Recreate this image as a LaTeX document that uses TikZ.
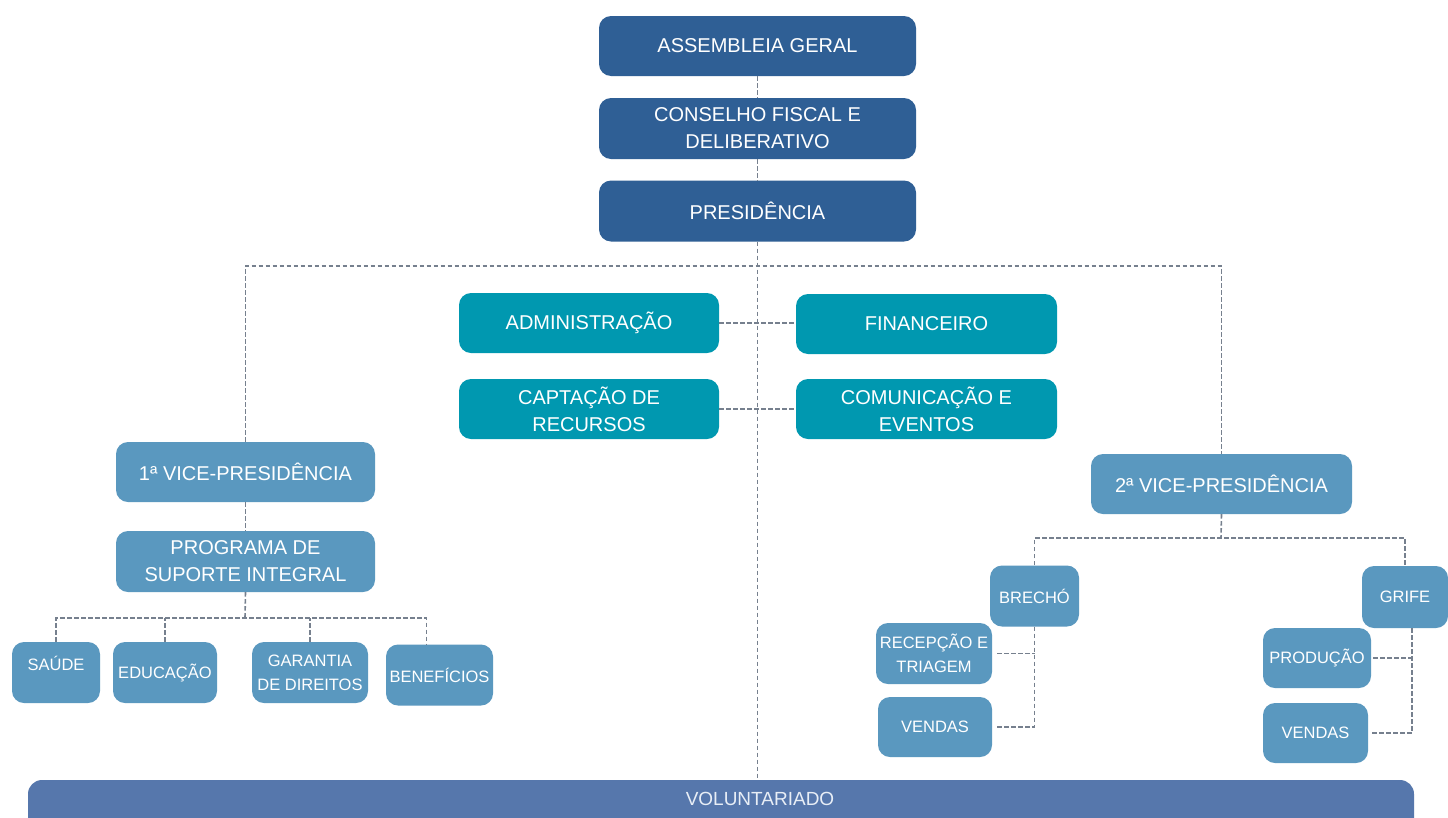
\documentclass[tikz,border=0pt]{standalone}
\usepackage{fontspec}
\setmainfont{Liberation Sans}
\definecolor{cdark}{RGB}{47,95,149}
\definecolor{cteal}{RGB}{0,152,176}
\definecolor{csteel}{RGB}{90,152,191}
\definecolor{cvol}{RGB}{86,119,172}
\definecolor{cline}{RGB}{118,128,142}
\definecolor{cvoltext}{RGB}{232,238,246}
\begin{document}
\begin{tikzpicture}[x=1pt,y=-1pt,
  box/.style={rectangle, rounded corners=12pt, text=white, align=center, inner sep=0pt,
    font=\fontsize{20}{27}\selectfont},
  dk/.style={box, fill=cdark},
  tl/.style={box, fill=cteal},
  st/.style={box, fill=csteel},
  sm/.style={font=\fontsize{16.5}{24}\selectfont},
  conn/.style={draw=cline, line width=1.6pt, dash pattern=on 4.5pt off 2.5pt}]
\clip (0,0) rectangle (1448,817);
\fill[white] (0,0) rectangle (1448,817);

% top column
\node[dk, minimum width=317pt, minimum height=60pt] (ag) at (757.5,46) {ASSEMBLEIA GERAL};
\node[dk, minimum width=317pt, minimum height=61pt] (cf) at (757.5,128.5) {CONSELHO FISCAL E\\DELIBERATIVO};
\node[dk, minimum width=317pt, minimum height=61pt] (pres) at (757.5,211) {PRESIDÊNCIA};

% staff boxes
\node[tl, minimum width=260pt, minimum height=60pt] (adm) at (589,323) {ADMINISTRAÇÃO};
\node[tl, minimum width=261pt, minimum height=60pt] (fin) at (926.5,324) {FINANCEIRO};
\node[tl, minimum width=260pt, minimum height=60pt] (cap) at (589,409) {CAPTAÇÃO DE\\RECURSOS};
\node[tl, minimum width=261pt, minimum height=60pt] (com) at (926.5,409) {COMUNICAÇÃO E\\EVENTOS};

% left branch
\node[st, minimum width=259pt, minimum height=60pt] (vp1) at (245.5,472) {1ª VICE-PRESIDÊNCIA};
\node[st, minimum width=259pt, minimum height=61pt] (psi) at (245.5,561.5) {PROGRAMA DE\\SUPORTE INTEGRAL};
\node[st, sm, minimum width=88pt, minimum height=61pt] (saude) at (56,672.5) {SAÚDE\\[-6pt]};
\node[st, sm, minimum width=104pt, minimum height=61pt] (edu) at (165,672.5) {EDUCAÇÃO};
\node[st, sm, minimum width=116pt, minimum height=61pt] (gar) at (310,672.5) {GARANTIA\\DE DIREITOS};
\node[st, sm, minimum width=107pt, minimum height=61pt] (ben) at (439.5,675) {BENEFÍCIOS};

% right branch
\node[st, minimum width=261pt, minimum height=60pt] (vp2) at (1221.5,484) {2ª VICE-PRESIDÊNCIA};
\node[st, sm, minimum width=89pt, minimum height=61pt] (brecho) at (1034.5,596) {BRECHÓ};
\node[st, sm, minimum width=86pt, minimum height=62pt] (grife) at (1405,597) {GRIFE};
\node[st, sm, minimum width=116pt, minimum height=61pt] (rec) at (934,653.5) {RECEPÇÃO E\\TRIAGEM};
\node[st, sm, minimum width=114pt, minimum height=60pt] (vend1) at (935,727) {VENDAS};
\node[st, sm, minimum width=108pt, minimum height=60pt] (prod) at (1317,658) {PRODUÇÃO};
\node[st, sm, minimum width=105pt, minimum height=60pt] (vend2) at (1315.5,733) {VENDAS};

% voluntariado bar
\node[rectangle, rounded corners=14pt, fill=cvol, minimum width=1386pt, minimum height=56pt, inner sep=0pt] (vol) at (721,808) {};
\node[text=cvoltext, font=\fontsize{19}{22}\selectfont] (voltext) at (760,799) {VOLUNTARIADO};

% connectors
\coordinate (hbar) at (758,266);
\draw[conn] (ag.south) -- (cf.north);
\draw[conn] (cf.south) -- (pres.north);
\draw[conn] (pres.south) -- (pres.south |- vol.north);
\draw[conn] (vp1.north) |- (hbar) -| (vp2.north);
\draw[conn] (adm.east) -- (adm.east -| fin.west);
\draw[conn] (cap.east) -- (cap.east -| com.west);

\coordinate (pj) at (245,618);
\draw[conn] (vp1.south) -- (psi.north);
\draw[conn] (psi.south) -- (pj);
\draw[conn] (saude.north) |- (pj) -| ([xshift=-13pt]ben.north);
\draw[conn] (edu.north) -- (edu.north |- pj);
\draw[conn] (gar.north) -- (gar.north |- pj);

\coordinate (rj) at (1221,538);
\draw[conn] (vp2.south) -- (rj);
\draw[conn] (brecho.north) |- (rj) -| (grife.north);
\draw[conn] (brecho.south) |- ([xshift=5pt]vend1.east);
\draw[conn] ([xshift=5pt]rec.east) -- (rec.east -| brecho.south);
\coordinate (gv) at ([xshift=7pt]grife.south);
\draw[conn] (gv) |- ([xshift=4pt]vend2.east);
\draw[conn] ([xshift=2pt]prod.east) -- (prod.east -| gv);
\end{tikzpicture}
\end{document}
